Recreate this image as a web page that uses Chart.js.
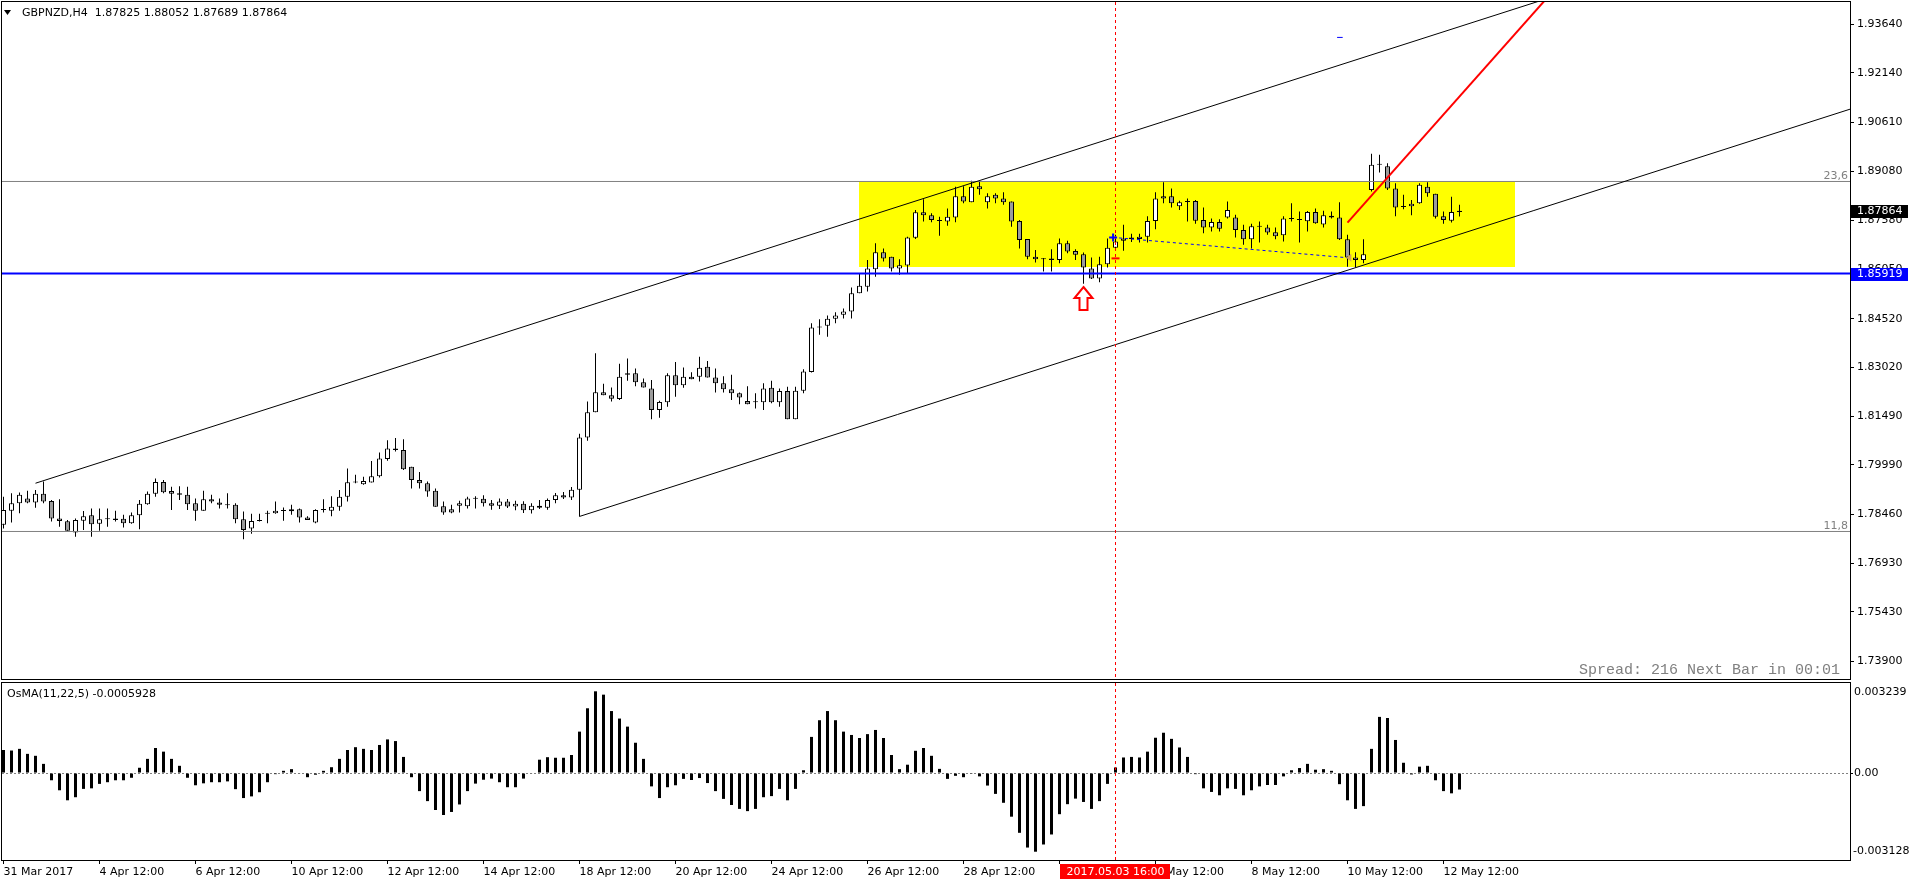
<!DOCTYPE html>
<html>
<head>
<meta charset="utf-8">
<script src="https://cdn.jsdelivr.net/npm/chart.js@4.4.1/dist/chart.umd.min.js"></script>
<style>
  html, body { margin: 0; padding: 0; background: #fff; overflow: hidden; }
  #wrap { position: relative; width: 1910px; height: 884px; }
  canvas { position: absolute; left: 0; }
  #price { top: 0; }
  #osma { top: 681px; }
</style>
</head>
<body>
<div id="wrap">
  <canvas id="price" width="1910" height="681"></canvas>
  <canvas id="osma" width="1910" height="203"></canvas>
</div>
<script>
// GBPNZD H4, bar 0 = 31 Mar 2017 12:00, last bar = 12 May 2017 20:00
const OPEN = [
  1.7813,1.7857,1.7880,1.7895,1.7882,1.7909,1.7887,1.7833,1.7824,1.7789,
  1.7826,1.7843,1.7816,1.7830,1.7833,1.7832,1.7818,1.7843,1.7877,1.7909,
  1.7946,1.7918,1.7911,1.7906,1.7880,1.7857,1.7892,1.7882,1.7875,1.7875,
  1.7830,1.7802,1.7825,1.7847,1.7849,1.7857,1.7855,1.7861,1.7836,1.7820,
  1.7859,1.7857,1.7869,1.7900,1.7945,1.7939,1.7944,1.7964,1.8017,1.8050,
  1.8045,1.7993,1.7952,1.7942,1.7919,1.7871,1.7861,1.7872,1.7871,1.7895,
  1.7894,1.7880,1.7872,1.7885,1.7870,1.7878,1.7858,1.7872,1.7866,1.7890,
  1.7905,1.7898,1.7922,1.8084,1.8162,1.8224,1.8215,1.8203,1.8278,1.8283,
  1.8255,1.8236,1.8169,1.8193,1.8277,1.8246,1.8272,1.8272,1.8303,1.8270,
  1.8252,1.8233,1.8221,1.8197,1.8193,1.8193,1.8238,1.8193,1.8228,1.8140,
  1.8229,1.8287,1.8425,1.8430,1.8452,1.8464,1.8474,1.8531,1.8551,1.8605,
  1.8658,1.8644,1.8608,1.8617,1.8703,1.8782,1.8773,1.8757,1.8753,1.8766,
  1.8832,1.8813,1.8863,1.8813,1.8836,1.8825,1.8815,1.8755,1.8699,1.8644,
  1.8637,1.8639,1.8634,1.8686,1.8662,1.8652,1.8608,1.8577,1.8621,1.8672,
  1.8694,1.8699,1.8699,1.8706,1.8755,1.8825,1.8832,1.8801,1.8815,1.8817,
  1.8758,1.8735,1.8752,1.8766,1.8766,1.8727,1.8698,1.8738,1.8735,1.8720,
  1.8711,1.8762,1.8759,1.8754,1.8783,1.8744,1.8766,1.8766,1.8698,1.8642,
  1.8634,1.8851,1.8929,1.8925,1.8856,1.8799,1.8801,1.8810,1.8861,1.8839,
  1.8770,1.8756,1.87825
];
const HIGH = [
  1.7900,1.7911,1.7913,1.7919,1.7921,1.7947,1.7890,1.7892,1.7828,1.7833,
  1.7856,1.7864,1.7864,1.7864,1.7857,1.7844,1.7851,1.7890,1.7916,1.7957,
  1.7952,1.7931,1.7933,1.7931,1.7895,1.7919,1.7906,1.7895,1.7911,1.7880,
  1.7854,1.7847,1.7847,1.7857,1.7885,1.7867,1.7875,1.7864,1.7840,1.7861,
  1.7892,1.7902,1.7921,1.7988,1.7968,1.7962,1.8011,1.8037,1.8075,1.8082,
  1.8078,1.7993,1.7977,1.7947,1.7926,1.7885,1.7875,1.7888,1.7900,1.7902,
  1.7905,1.7890,1.7895,1.7893,1.7888,1.7886,1.7880,1.7890,1.7895,1.7912,
  1.7915,1.7930,1.8095,1.8195,1.8345,1.8250,1.8239,1.8312,1.8329,1.8298,
  1.8267,1.8262,1.8198,1.8283,1.8318,1.8301,1.8286,1.8334,1.8321,1.8298,
  1.8274,1.8278,1.8223,1.8243,1.8221,1.8252,1.8260,1.8236,1.8241,1.8241,
  1.8295,1.8438,1.8450,1.8462,1.8472,1.8484,1.8549,1.8593,1.8634,1.8686,
  1.8670,1.8644,1.8636,1.8706,1.8789,1.8822,1.8779,1.8768,1.8794,1.8861,
  1.8863,1.8880,1.8879,1.8841,1.8841,1.8844,1.8815,1.8758,1.8699,1.8665,
  1.8640,1.8667,1.8701,1.8694,1.8667,1.8657,1.8642,1.8644,1.8701,1.8712,
  1.8743,1.8715,1.8715,1.8770,1.8844,1.8875,1.8856,1.8818,1.8825,1.8820,
  1.8797,1.8763,1.8760,1.8815,1.8774,1.8743,1.8746,1.8753,1.8743,1.8735,
  1.8770,1.8810,1.8784,1.8786,1.8794,1.8787,1.8784,1.8813,1.8712,1.8658,
  1.8698,1.8963,1.8960,1.8934,1.8872,1.8836,1.8820,1.8872,1.8875,1.8839,
  1.8784,1.8830,1.88052
];
const LOW = [
  1.7802,1.7820,1.7849,1.7880,1.7866,1.7880,1.7823,1.7807,1.7795,1.7776,
  1.7797,1.7776,1.7795,1.7807,1.7823,1.7805,1.7816,1.7799,1.7875,1.7900,
  1.7911,1.7859,1.7890,1.7859,1.7826,1.7857,1.7880,1.7864,1.7864,1.7818,
  1.7768,1.7785,1.7823,1.7818,1.7847,1.7826,1.7844,1.7820,1.7828,1.7818,
  1.7851,1.7840,1.7857,1.7885,1.7942,1.7937,1.7944,1.7960,1.8012,1.8040,
  1.7983,1.7926,1.7926,1.7900,1.7869,1.7844,1.7849,1.7851,1.7864,1.7864,
  1.7870,1.7860,1.7862,1.7865,1.7858,1.7850,1.7848,1.7862,1.7860,1.7880,
  1.7893,1.7890,1.7839,1.8074,1.8162,1.8215,1.8195,1.8200,1.8260,1.8243,
  1.8239,1.8140,1.8145,1.8179,1.8210,1.8238,1.8264,1.8257,1.8270,1.8223,
  1.8223,1.8200,1.8187,1.8187,1.8174,1.8169,1.8190,1.8179,1.8140,1.8140,
  1.8221,1.8285,1.8402,1.8396,1.8438,1.8453,1.8453,1.8531,1.8536,1.8582,
  1.8629,1.8598,1.8588,1.8593,1.8699,1.8753,1.8751,1.8709,1.8740,1.8751,
  1.8810,1.8813,1.8836,1.8794,1.8810,1.8805,1.8737,1.8670,1.8636,1.8626,
  1.8598,1.8598,1.8624,1.8655,1.8634,1.8560,1.8575,1.8565,1.8611,1.8665,
  1.8663,1.8690,1.8688,1.8688,1.8729,1.8810,1.8797,1.8789,1.8753,1.8746,
  1.8717,1.8722,1.8722,1.8763,1.8704,1.8681,1.8670,1.8688,1.8712,1.8698,
  1.8691,1.8753,1.8688,1.8722,1.8746,1.8735,1.8763,1.8696,1.8613,1.8611,
  1.8624,1.8846,1.8905,1.8851,1.8770,1.8791,1.8773,1.8808,1.8830,1.8763,
  1.8746,1.8750,1.87689
];
const CLOSE = [
  1.7859,1.7880,1.7906,1.7882,1.7909,1.7885,1.7833,1.7825,1.7795,1.7828,
  1.7840,1.7815,1.7830,1.7831,1.7828,1.7818,1.7843,1.7878,1.7909,1.7946,
  1.7914,1.7909,1.7906,1.7877,1.7857,1.7892,1.7885,1.7875,1.7874,1.7830,
  1.7797,1.7825,1.7826,1.7849,1.7857,1.7856,1.7861,1.7836,1.7828,1.7859,
  1.7860,1.7869,1.7900,1.7945,1.7944,1.7949,1.7964,1.8019,1.8050,1.8045,
  1.7985,1.7952,1.7942,1.7916,1.7869,1.7851,1.7851,1.7880,1.7895,1.7894,
  1.7880,1.7872,1.7885,1.7870,1.7878,1.7858,1.7872,1.7866,1.7890,1.7905,
  1.7898,1.7922,1.8084,1.8162,1.8224,1.8215,1.8204,1.8272,1.8283,1.8255,
  1.8239,1.8169,1.8194,1.8277,1.8246,1.8272,1.8264,1.8300,1.8270,1.8252,
  1.8233,1.8221,1.8208,1.8187,1.8194,1.8236,1.8193,1.8228,1.8140,1.8229,
  1.8288,1.8425,1.8427,1.8452,1.8462,1.8474,1.8531,1.8554,1.8608,1.8658,
  1.8639,1.8608,1.8618,1.8704,1.8782,1.8773,1.8758,1.8755,1.8768,1.8832,
  1.8815,1.8861,1.8853,1.8832,1.8825,1.8813,1.8753,1.8696,1.8644,1.8636,
  1.8636,1.8634,1.8686,1.8660,1.8650,1.8611,1.8577,1.8621,1.8672,1.8691,
  1.8701,1.8704,1.8706,1.8755,1.8825,1.8832,1.8810,1.8813,1.8814,1.8756,
  1.8735,1.8752,1.8731,1.8789,1.8727,1.8698,1.8739,1.8737,1.8719,1.8708,
  1.8763,1.8761,1.8758,1.8783,1.8748,1.8773,1.8771,1.8698,1.8642,1.8634,
  1.8652,1.8929,1.8930,1.8856,1.8797,1.8798,1.8808,1.8867,1.8841,1.8768,
  1.8758,1.8783,1.87864
];
const OSMA = [
  0.00083,0.00081,0.00087,0.00069,0.00062,0.00033,-0.00026,-0.00062,-0.00098,-0.00087,
  -0.00057,-0.00055,-0.00039,-0.00033,-0.00026,-0.00026,-0.00017,0.00019,0.00051,0.00090,
  0.00077,0.00051,0.00026,-0.00017,-0.00044,-0.00037,-0.00033,-0.00033,-0.00030,-0.00058,
  -0.00090,-0.00084,-0.00069,-0.00033,-0.00004,0.00008,0.00014,-0.00002,-0.00015,-0.00006,
  0.00008,0.00021,0.00051,0.00083,0.00093,0.00087,0.00083,0.00101,0.00121,0.00115,
  0.00058,-0.00015,-0.00065,-0.00101,-0.00133,-0.00151,-0.00140,-0.00113,-0.00065,-0.00038,
  -0.00024,-0.00020,-0.00033,-0.00051,-0.00051,-0.00020,-0.00002,0.00048,0.00057,0.00055,
  0.00055,0.00065,0.00149,0.00233,0.00294,0.00282,0.00223,0.00196,0.00167,0.00109,
  0.00051,-0.00048,-0.00090,-0.00051,-0.00044,-0.00021,-0.00025,-0.00018,-0.00036,-0.00065,
  -0.00093,-0.00115,-0.00129,-0.00137,-0.00129,-0.00087,-0.00083,-0.00057,-0.00098,-0.00057,
  0.00010,0.00130,0.00190,0.00223,0.00190,0.00149,0.00137,0.00126,0.00140,0.00155,
  0.00126,0.00065,0.00014,0.00030,0.00080,0.00090,0.00062,0.00015,-0.00021,-0.00010,
  -0.00015,-0.00001,-0.00012,-0.00045,-0.00075,-0.00107,-0.00157,-0.00215,-0.00268,-0.00283,
  -0.00257,-0.00221,-0.00148,-0.00112,-0.00092,-0.00104,-0.00129,-0.00101,-0.00039,0.00020,
  0.00056,0.00058,0.00056,0.00077,0.00127,0.00145,0.00123,0.00092,0.00058,-0.00004,
  -0.00055,-0.00068,-0.00080,-0.00055,-0.00057,-0.00080,-0.00062,-0.00048,-0.00043,-0.00043,
  -0.00012,0.00010,0.00018,0.00033,0.00012,0.00014,0.00008,-0.00040,-0.00098,-0.00129,
  -0.00119,0.00087,0.00202,0.00198,0.00119,0.00037,-0.00005,0.00023,0.00026,-0.00026,
  -0.00065,-0.00073,-0.0005928
];

const PRICE_TICKS = [1.93640,1.92140,1.90610,1.89080,1.87580,1.86050,1.84520,1.83020,1.81490,1.79990,1.78460,1.76930,1.75430,1.73900];
const TIME_TICKS = [0,12,24,36,48,60,72,84,96,108,120,132,144,156,168,180];
const TIME_LABELS = ["31 Mar 2017","4 Apr 12:00","6 Apr 12:00","10 Apr 12:00","12 Apr 12:00","14 Apr 12:00","18 Apr 12:00","20 Apr 12:00","24 Apr 12:00","26 Apr 12:00","28 Apr 12:00","2 May 12:00","4 May 12:00","8 May 12:00","10 May 12:00","12 May 12:00"];

// drawn objects, in bar index / price units
const UPPER_LINE = [[4, 1.7942], [231, 1.9747]];
const LOWER_LINE = [[72, 1.7839], [231, 1.9103]];
const RED_LINE = [[168, 1.8750], [193, 1.9448]];
const BLUE_DASH = [[138.7, 1.8704], [168, 1.8641]];
const BLUE_TICK = [[166.7, 1.9324], [167.4, 1.9324]];
const SUPPORT = 1.85919;
const FIB_LEVELS = [[1.88774, "23,6"], [1.77924, "11,8"]];
const BOX = [106.9, 188.9, 1.8876, 1.8612];
const CURSOR_BAR = 139;
const CURSOR_LABEL = "2017.05.03 16:00";
const ARROW = [135, 1.8551];
const CROSS = [138.7, 1.8704];
const RED_MARK = [139, 1.8639];
const TRIANGLE = [168.1, 1.8641];
const LAST_PRICE = 1.87864;

const TITLE = "GBPNZD,H4  1.87825 1.88052 1.87689 1.87864";
const OSMA_TITLE = "OsMA(11,22,5) -0.0005928";
const SPREAD_TEXT = "Spread: 216 Next Bar in 00:01";

const XMIN = -0.1875, XMAX = 230.8125;
const YMIN = 1.73351, YMAX = 1.94338;
const OMIN = -0.003128, OMAX = 0.003239;

const FONT = '"DejaVu Sans", sans-serif';
const IDX = OPEN.map((_, i) => i);

function fixAxis(w, h) {
  return s => {
    if (w) s.width = w;
    if (h) s.height = h;
    s.paddingTop = 0; s.paddingBottom = 0; s.paddingLeft = 0; s.paddingRight = 0;
  };
}

function lineSet(pts, color, width, dash, order) {
  return {
    type: 'line',
    data: pts.map(p => ({ x: p[0], y: p[1] })),
    borderColor: color,
    borderWidth: width,
    borderDash: dash || [],
    pointRadius: 0,
    fill: false,
    tension: 0,
    order: order
  };
}

function clipArea(ctx, a) {
  ctx.beginPath();
  ctx.rect(a.left, a.top, a.width, a.height);
  ctx.clip();
}

function cursorLine(ctx, a, x) {
  const vx = x.getPixelForValue(CURSOR_BAR);
  ctx.strokeStyle = '#ff0000';
  ctx.lineWidth = 1;
  ctx.setLineDash([3, 3]);
  ctx.beginPath();
  ctx.moveTo(vx, a.top);
  ctx.lineTo(vx, a.bottom);
  ctx.stroke();
  ctx.setLineDash([]);
}

const pricePlugin = {
  id: 'priceDecor',
  beforeDatasetsDraw(chart) {
    const { ctx, chartArea: a, scales: { x, y } } = chart;
    ctx.save();
    clipArea(ctx, a);
    const x1 = Math.round(x.getPixelForValue(BOX[0])), x2 = Math.round(x.getPixelForValue(BOX[1]));
    const y1 = Math.round(y.getPixelForValue(BOX[2])), y2 = Math.round(y.getPixelForValue(BOX[3]));
    ctx.fillStyle = '#ffff00';
    ctx.fillRect(x1, y1, x2 - x1, y2 - y1);
    ctx.restore();
  },
  afterDatasetsDraw(chart) {
    const { ctx, chartArea: a, scales: { x, y } } = chart;
    ctx.save();
    clipArea(ctx, a);
    cursorLine(ctx, a, x);

    // up arrow under the low
    const ax = x.getPixelForValue(ARROW[0]), ay = Math.round(y.getPixelForValue(ARROW[1]));
    ctx.beginPath();
    ctx.moveTo(ax, ay);
    ctx.lineTo(ax + 9, ay + 11);
    ctx.lineTo(ax + 4, ay + 11);
    ctx.lineTo(ax + 4, ay + 23);
    ctx.lineTo(ax - 4, ay + 23);
    ctx.lineTo(ax - 4, ay + 11);
    ctx.lineTo(ax - 9, ay + 11);
    ctx.closePath();
    ctx.fillStyle = '#fff';
    ctx.fill();
    ctx.strokeStyle = '#ff0000';
    ctx.lineWidth = 2;
    ctx.stroke();

    // blue cross
    const cx = x.getPixelForValue(CROSS[0]), cy = y.getPixelForValue(CROSS[1]);
    ctx.strokeStyle = '#0000ff';
    ctx.lineWidth = 2;
    ctx.beginPath();
    ctx.moveTo(cx - 4, cy); ctx.lineTo(cx + 4, cy);
    ctx.moveTo(cx, cy - 4); ctx.lineTo(cx, cy + 4);
    ctx.stroke();

    // red dash
    const rx = x.getPixelForValue(RED_MARK[0]), ry = y.getPixelForValue(RED_MARK[1]);
    ctx.strokeStyle = '#ff0000';
    ctx.beginPath();
    ctx.moveTo(rx - 4, ry); ctx.lineTo(rx + 4, ry);
    ctx.stroke();

    // small triangle at end of dashed line
    const tx = x.getPixelForValue(TRIANGLE[0]), ty = y.getPixelForValue(TRIANGLE[1]);
    ctx.fillStyle = '#d2a35a';
    ctx.beginPath();
    ctx.moveTo(tx - 2, ty); ctx.lineTo(tx + 3, ty - 4); ctx.lineTo(tx + 3, ty + 4);
    ctx.closePath();
    ctx.fill();
    ctx.restore();
  },
  afterDraw(chart) {
    const { ctx, chartArea: a, scales: { y } } = chart;
    ctx.save();
    ctx.strokeStyle = '#000';
    ctx.lineWidth = 1;
    ctx.strokeRect(a.left - 0.5, a.top - 0.5, a.width + 1, a.height + 1);

    ctx.font = '11px ' + FONT;
    ctx.textBaseline = 'middle';
    ctx.fillStyle = '#000';
    ctx.textAlign = 'left';
    ctx.beginPath();
    ctx.moveTo(4, 10); ctx.lineTo(11, 10); ctx.lineTo(7.5, 15);
    ctx.closePath();
    ctx.fill();
    ctx.fillText(TITLE, 22, 13);

    // fibo level captions
    ctx.fillStyle = '#808080';
    ctx.textAlign = 'right';
    ctx.textBaseline = 'alphabetic';
    FIB_LEVELS.forEach(f => ctx.fillText(f[1], a.right - 2, Math.round(y.getPixelForValue(f[0])) - 2));

    // right side price tags
    const tag = (v, bg) => {
      const py = Math.round(y.getPixelForValue(v));
      ctx.fillStyle = bg;
      ctx.fillRect(a.right + 1, py - 6, 57, 13);
      ctx.fillStyle = '#fff';
      ctx.textAlign = 'left';
      ctx.textBaseline = 'middle';
      ctx.fillText(v.toFixed(5), a.right + 7, py + 0.5);
    };
    tag(LAST_PRICE, '#000');
    tag(SUPPORT, '#0000ff');

    ctx.font = '15px "Liberation Mono", monospace';
    ctx.fillStyle = '#808080';
    ctx.textAlign = 'right';
    ctx.textBaseline = 'middle';
    ctx.fillText(SPREAD_TEXT, a.right - 10, a.bottom - 9);
    ctx.restore();
  }
};

const osmaPlugin = {
  id: 'osmaDecor',
  beforeDatasetsDraw(chart) {
    const { ctx, chartArea: a, scales: { y } } = chart;
    ctx.save();
    const zy = Math.round(y.getPixelForValue(0)) + 0.5;
    ctx.strokeStyle = '#808080';
    ctx.lineWidth = 1;
    ctx.setLineDash([2, 2]);
    ctx.beginPath();
    ctx.moveTo(a.left, zy);
    ctx.lineTo(a.right, zy);
    ctx.stroke();
    ctx.restore();
  },
  afterDatasetsDraw(chart) {
    const { ctx, chartArea: a, scales: { x } } = chart;
    ctx.save();
    clipArea(ctx, a);
    cursorLine(ctx, a, x);
    ctx.restore();
  },
  afterDraw(chart) {
    const { ctx, chartArea: a, scales: { x } } = chart;
    ctx.save();
    ctx.strokeStyle = '#000';
    ctx.lineWidth = 1;
    ctx.strokeRect(a.left - 0.5, a.top - 0.5, a.width + 1, a.height + 1);
    ctx.font = '11px ' + FONT;
    ctx.fillStyle = '#000';
    ctx.textBaseline = 'middle';
    ctx.textAlign = 'left';
    ctx.fillText(OSMA_TITLE, 7, a.top + 11);
    ctx.fillText(OMAX.toFixed(6), a.right + 4, a.top + 9);
    ctx.fillText(OMIN.toFixed(6), a.right + 3, a.bottom - 9);

    // cursor date on the time axis
    const vx = x.getPixelForValue(CURSOR_BAR);
    const w = ctx.measureText(CURSOR_LABEL).width + 12;
    ctx.fillStyle = '#ff0000';
    ctx.fillRect(Math.round(vx - w / 2), a.bottom + 4, Math.round(w), 15);
    ctx.fillStyle = '#fff';
    ctx.textAlign = 'center';
    ctx.fillText(CURSOR_LABEL, vx, a.bottom + 12);
    ctx.restore();
  }
};

Chart.defaults.font.family = FONT;
Chart.defaults.font.size = 11;
Chart.defaults.color = '#000';

const bodyLo = IDX.map(i => Math.min(OPEN[i], CLOSE[i]));
const bodyHi = IDX.map(i => Math.max(OPEN[i], CLOSE[i]));
const bodyColors = IDX.map(i => CLOSE[i] >= OPEN[i] ? '#ffffff' : '#9c9c9c');

new Chart(document.getElementById('price'), {
  type: 'bar',
  data: {
    datasets: [
      lineSet(RED_LINE, '#ff0000', 2, null, 0),
      lineSet(UPPER_LINE, '#000000', 1, null, 1),
      lineSet(LOWER_LINE, '#000000', 1, null, 1),
      lineSet(BLUE_DASH, '#0000ff', 1, [3, 3], 1),
      lineSet(BLUE_TICK, '#0000ff', 1, null, 1),
      lineSet([[XMIN, SUPPORT], [XMAX, SUPPORT]], '#0000ff', 2, null, 2),
      lineSet([[XMIN, FIB_LEVELS[0][0]], [XMAX, FIB_LEVELS[0][0]]], '#808080', 1, null, 3),
      lineSet([[XMIN, FIB_LEVELS[1][0]], [XMAX, FIB_LEVELS[1][0]]], '#808080', 1, null, 3),
      {
        data: IDX.map(i => ({ x: i, y: [bodyLo[i], bodyHi[i]] })),
        backgroundColor: bodyColors,
        borderColor: '#000',
        borderWidth: 1,
        borderSkipped: false,
        barThickness: 5,
        minBarLength: 1,
        grouped: false,
        inflateAmount: 0,
        order: 10
      },
      {
        data: IDX.map(i => ({ x: i, y: [LOW[i], HIGH[i]] })),
        backgroundColor: '#000',
        borderWidth: 0,
        barThickness: 1,
        minBarLength: 1,
        grouped: false,
        inflateAmount: 0,
        order: 11
      }
    ]
  },
  options: {
    responsive: false,
    animation: false,
    devicePixelRatio: 1,
    events: [],
    layout: { padding: { left: 2, top: 2, right: 0, bottom: 2 } },
    plugins: { legend: { display: false }, tooltip: { enabled: false } },
    scales: {
      x: { type: 'linear', min: XMIN, max: XMAX, offset: false, display: false },
      y: {
        position: 'right',
        min: YMIN,
        max: YMAX,
        afterBuildTicks: s => { s.ticks = PRICE_TICKS.map(v => ({ value: v })); },
        afterFit: fixAxis(60),
        ticks: { padding: 3, color: '#000', font: { family: FONT, size: 11 }, callback: v => v.toFixed(5) },
        grid: { drawOnChartArea: false, tickLength: 4, color: '#000' },
        border: { display: false }
      }
    }
  },
  plugins: [pricePlugin]
});

new Chart(document.getElementById('osma'), {
  type: 'bar',
  data: {
    datasets: [{
      data: IDX.map(i => ({ x: i, y: OSMA[i] })),
      backgroundColor: '#000',
      borderWidth: 0,
      barThickness: 3,
      grouped: false,
      inflateAmount: 0
    }]
  },
  options: {
    responsive: false,
    animation: false,
    devicePixelRatio: 1,
    events: [],
    layout: { padding: { left: 2, top: 2, right: 0, bottom: 0 } },
    plugins: { legend: { display: false }, tooltip: { enabled: false } },
    scales: {
      x: {
        type: 'linear', min: XMIN, max: XMAX, offset: false,
        afterBuildTicks: s => { s.ticks = TIME_TICKS.map(v => ({ value: v })); },
        afterFit: fixAxis(0, 24),
        ticks: { autoSkip: false, maxRotation: 0, minRotation: 0, align: 'start', padding: 2, color: '#000',
                 font: { family: FONT, size: 11 }, callback: (v, i) => TIME_LABELS[i] },
        grid: { drawOnChartArea: false, tickLength: 4, color: '#000', offset: false },
        border: { display: false }
      },
      y: {
        position: 'right',
        min: OMIN,
        max: OMAX,
        afterBuildTicks: s => { s.ticks = [{ value: 0 }]; },
        afterFit: fixAxis(60),
        ticks: { padding: 1, color: '#000', font: { family: FONT, size: 11 }, callback: () => '0.00' },
        grid: { drawOnChartArea: false, tickLength: 3, color: '#000' },
        border: { display: false }
      }
    }
  },
  plugins: [osmaPlugin]
});
</script>
</body>
</html>
